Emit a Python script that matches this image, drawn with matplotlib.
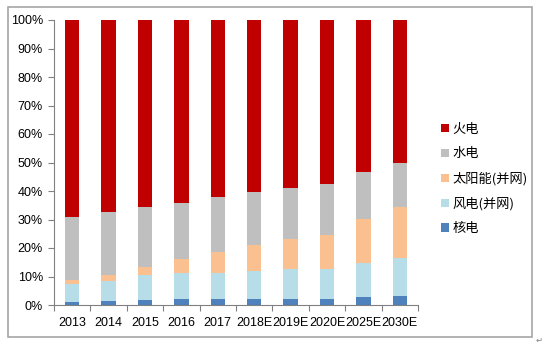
import numpy as np
import matplotlib.pyplot as plt
from matplotlib.patches import Patch, Rectangle

plt.rcParams['font.family'] = ['Liberation Sans', 'Noto Sans CJK SC', 'DejaVu Sans']

years = ["2013", "2014", "2015", "2016", "2017", "2018E", "2019E", "2020E", "2025E", "2030E"]

# generation mix, percent of total
nuclear = [1.1, 1.4, 1.9, 2.0, 2.0, 2.2, 2.2, 2.2, 2.8, 3.3]
wind = [6.2, 7.0, 8.5, 9.1, 9.1, 9.8, 10.3, 10.5, 11.9, 13.3]
solar = [1.5, 2.1, 2.9, 4.9, 7.6, 8.9, 10.7, 11.9, 15.6, 17.9]
hydro = [22.2, 22.2, 21.1, 19.9, 19.1, 18.7, 18.0, 17.7, 16.5, 15.3]
coal = [100 - (a + b + c + d) for a, b, c, d in zip(nuclear, wind, solar, hydro)]

series = [
    ("核电", nuclear, "#4F81BD"),
    ("风电(并网)", wind, "#B7DEE8"),
    ("太阳能(并网)", solar, "#FAC090"),
    ("水电", hydro, "#BFBFBF"),
    ("火电", coal, "#C00000"),
]

fig = plt.figure(figsize=(5.46, 3.46), dpi=100)
fig.patches.append(Rectangle((8 / 546, 1 - 337 / 346), 524 / 546, 330 / 346,
                             transform=fig.transFigure, fill=False,
                             edgecolor="#A6A6A6", linewidth=1.2))
ax = fig.add_axes([54 / 546, 1 - 305 / 346, 364 / 546, 285 / 346])

x = np.arange(len(years))
bottom = np.zeros(len(years))
handles = []
for name, vals, color in series:
    ax.bar(x, vals, width=0.4, bottom=bottom, color=color, linewidth=0)
    bottom += np.array(vals)
    handles.append(Patch(facecolor=color, label=name))

ax.set_xlim(-0.5, len(years) - 0.5)
ax.set_ylim(0, 100)
ax.set_yticks(np.arange(0, 101, 10))
ax.set_yticklabels([f"{v}%" for v in range(0, 101, 10)])
ax.set_xticks(x)
ax.set_xticklabels(years)
ax.set_xticks(np.arange(-0.5, len(years)), minor=True)
ax.tick_params(axis="x", which="major", length=0, labelsize=9, pad=9)
ax.tick_params(axis="x", which="minor", length=4, color="#808080", width=0.8)
ax.tick_params(axis="y", length=4, color="#808080", width=0.8, labelsize=9, pad=4)

for side in ("top", "right"):
    ax.spines[side].set_visible(False)
for side in ("left", "bottom"):
    ax.spines[side].set_color("#808080")
    ax.spines[side].set_linewidth(0.8)

fig.legend(handles=handles[::-1], loc="upper left",
           bbox_to_anchor=(429 / 546, 1 - 111 / 346), frameon=False,
           handlelength=0.6, handleheight=0.6, handletextpad=0.3,
           labelspacing=0.88,
           prop={'family': ['Noto Sans CJK SC', 'DejaVu Sans'], 'size': 9.5})

fig.text(536 / 546, 1 - 340 / 346, "↵", fontsize=6, color="#808080",
         family="DejaVu Sans", va="center")

fig.savefig("out.png", dpi=100)
